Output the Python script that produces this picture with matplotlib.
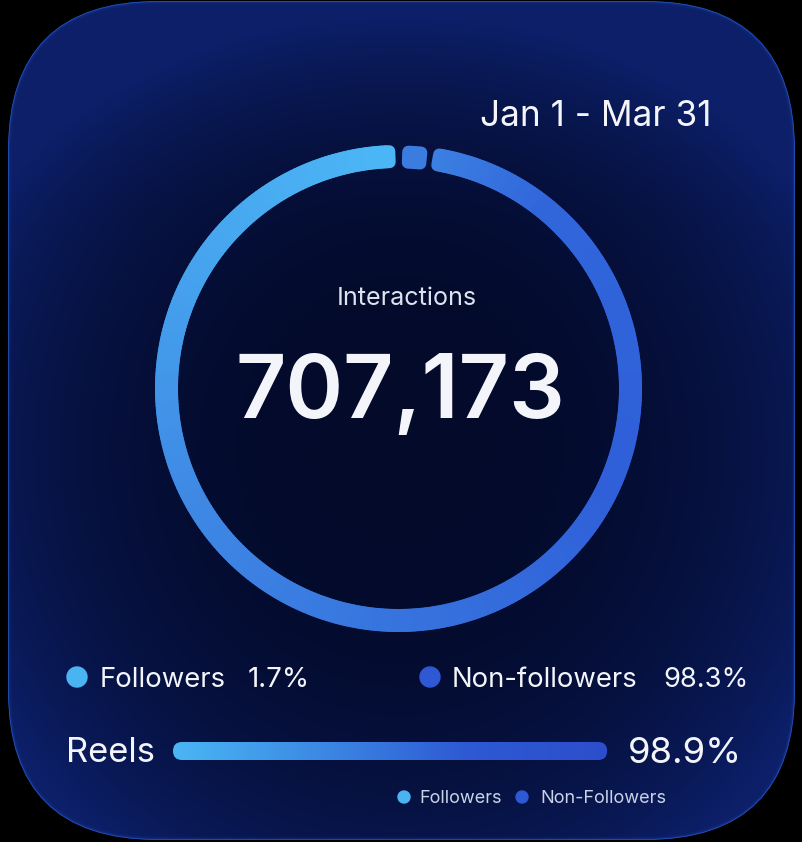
import numpy as np
import matplotlib
matplotlib.use("Agg")
import matplotlib.pyplot as plt
from matplotlib.patches import FancyBboxPatch, Polygon, Circle
from matplotlib.collections import PatchCollection
from matplotlib.colors import LinearSegmentedColormap, to_rgb

# ---------------- data ----------------
date_range = "Jan 1 - Mar 31"
metric_label = "Interactions"
total_interactions = 707173
audience_labels = ["Followers", "Non-followers"]
audience_share = [1.7, 98.3]
content_label = "Reels"
content_share = 98.9
content_legend = ["Followers", "Non-Followers"]

# ---------------- figure ----------------
W, H = 802, 842
DPI = 100
fig = plt.figure(figsize=(W / DPI, H / DPI), dpi=DPI)
fig.patch.set_facecolor("black")
ax = fig.add_axes([0, 0, 1, 1])
ax.set_xlim(0, W)
ax.set_ylim(H, 0)
ax.axis("off")
renderer = fig.canvas.get_renderer()
FONT = ["Inter", "DejaVu Sans"]

# ---------------- card background ----------------
CR = 150
x0c, y0c, x1c, y1c = 8, 1, 795, 840
card = FancyBboxPatch((x0c + CR, y0c + CR), (x1c - x0c) - 2 * CR, (y1c - y0c) - 2 * CR,
                      boxstyle=f"round,pad={CR}", facecolor="none", edgecolor="none", zorder=0)
ax.add_patch(card)
yy, xx = np.mgrid[0:H, 0:W] + 0.5
d = np.sqrt(((xx - 400) / 470) ** 2 + ((yy - 450) / 500) ** 2)
t = np.clip(d, 0, 1.3) ** 2.6
t = t + 0.35 * np.clip((230 - yy) / 230, 0, 1) ** 1.6
t = np.clip(t, 0, 1)
c0 = np.array(to_rgb("#030a2a"))
c1 = np.array(to_rgb("#0c1f68"))
img = c0 + (c1 - c0) * t[..., None]
im = ax.imshow(img, extent=(0, W, H, 0), zorder=0.5, interpolation="bilinear")
im.set_clip_path(card)
for lw, al in [(7, 0.07), (4, 0.12), (1.6, 0.7)]:
    edge = FancyBboxPatch((x0c + CR, y0c + CR), (x1c - x0c) - 2 * CR, (y1c - y0c) - 2 * CR,
                          boxstyle=f"round,pad={CR}", facecolor="none",
                          edgecolor="#2b62da", linewidth=lw * 72 / DPI, alpha=al, zorder=1)
    ax.add_patch(edge)
    edge.set_clip_path(card)

# ---------------- donut ring ----------------
cx, cy = 398.5, 388.5
r_out, r_in = 243.5, 220.5
rm = (r_in + r_out) / 2
corner = 6.0
gap = 1.5  # degrees

ring_cmap = LinearSegmentedColormap.from_list(
    "ring",
    [(0.0, "#3b7fe2"), (0.08, "#3166db"), (0.3, "#2f5fd9"), (0.5, "#3774de"),
     (0.68, "#3f8ae5"), (0.85, "#46a4ee"), (1.0, "#4bb6f5")])


def arc_pieces(a0, a1, n):
    ra, rb = r_in + corner, r_out - corner
    da = np.degrees(corner / rm)
    b0, b1 = a0 + da, a1 - da
    edges = np.linspace(b0, b1, n + 1)
    polys = []
    for e0, e1 in zip(edges[:-1], edges[1:]):
        th = np.radians(np.linspace(e0, e1, 5))
        outer = np.c_[cx + rb * np.sin(th), cy - rb * np.cos(th)]
        inner = np.c_[cx + ra * np.sin(th[::-1]), cy - ra * np.cos(th[::-1])]
        polys.append(Polygon(np.vstack([outer, inner]), closed=True))
    return polys


total = sum(audience_share)
spans = [s / total * 360 for s in audience_share]
# followers segment
f_start = gap / 2
f_end = f_start + spans[0]
fp = arc_pieces(f_start, f_end, 1)
pc = PatchCollection(fp, facecolors=["#3b7ce0"], edgecolors=["#3b7ce0"],
                     linewidths=2 * corner * 72 / DPI, joinstyle="round", zorder=3)
ax.add_collection(pc)
# non-followers segment with gradient
n_start = f_end + gap
n_end = 360 - gap / 2
N = 360
npieces = arc_pieces(n_start, n_end, N)
cols = ring_cmap(np.linspace(0, 1, N))
pc2 = PatchCollection(npieces, facecolors=cols, edgecolors=cols,
                      linewidths=2 * corner * 72 / DPI, joinstyle="round", zorder=3)
ax.add_collection(pc2)


# ---------------- text helper ----------------
def fit_text(x, y, s, width, ha="left", color="#f3f5fa", weight="normal"):
    tx = ax.text(x, y, s, ha=ha, va="baseline", fontsize=20, color=color,
                 family=FONT, fontweight=weight, zorder=5)
    w = tx.get_window_extent(renderer).width
    tx.set_fontsize(20 * width / w)
    return tx


fit_text(712, 126, date_range, 232, ha="right")
fit_text(407, 305, metric_label, 140, ha="center", color="#dde2ef")
fit_text(400, 418, f"{total_interactions:,}", 330, ha="center", weight="semibold")

# ---------------- audience legend ----------------
light_c, dark_c = "#4ab4f2", "#2f58d4"
ax.add_patch(Circle((77, 677), 10, color=light_c, zorder=5))
ax.add_patch(Circle((430, 677), 10, color=dark_c, zorder=5))
fit_text(100, 687, audience_labels[0], 126)
fit_text(248, 687, f"{audience_share[0]}%", 62)
fit_text(452, 687, audience_labels[1], 186)
fit_text(663, 687, f"{audience_share[1]}%", 85)

# ---------------- reels bar ----------------
fit_text(66, 762, content_label, 89)
fit_text(628, 763, f"{content_share}%", 114)
bx0, track_w, by0, bh = 173, 439, 742, 18
bw = track_w * content_share / 100
bar_pad = FancyBboxPatch((bx0, by0), bw, bh, boxstyle=f"round,pad=0,rounding_size={bh/2}",
                         facecolor="none", edgecolor="none", zorder=4)
ax.add_patch(bar_pad)
bar_cmap = LinearSegmentedColormap.from_list("bar", ["#4ab6f4", "#3c8ae4", "#2e5ad4", "#2d4ecc"])
grad = bar_cmap(np.linspace(0, 1, 256))[None, :, :3]
bim = ax.imshow(grad, extent=(bx0, bx0 + bw, by0 + bh, by0), zorder=4, aspect="auto",
                interpolation="bilinear")
bim.set_clip_path(bar_pad)
ax.set_xlim(0, W)
ax.set_ylim(H, 0)

# ---------------- small legend ----------------
ax.add_patch(Circle((404, 797), 6, color=light_c, zorder=5))
ax.add_patch(Circle((522, 797), 6, color=dark_c, zorder=5))
fit_text(419, 803, content_legend[0], 83, color="#c9d2e6")
fit_text(540, 803, content_legend[1], 127, color="#c9d2e6")

fig.savefig("out.png", dpi=DPI, facecolor="black")
